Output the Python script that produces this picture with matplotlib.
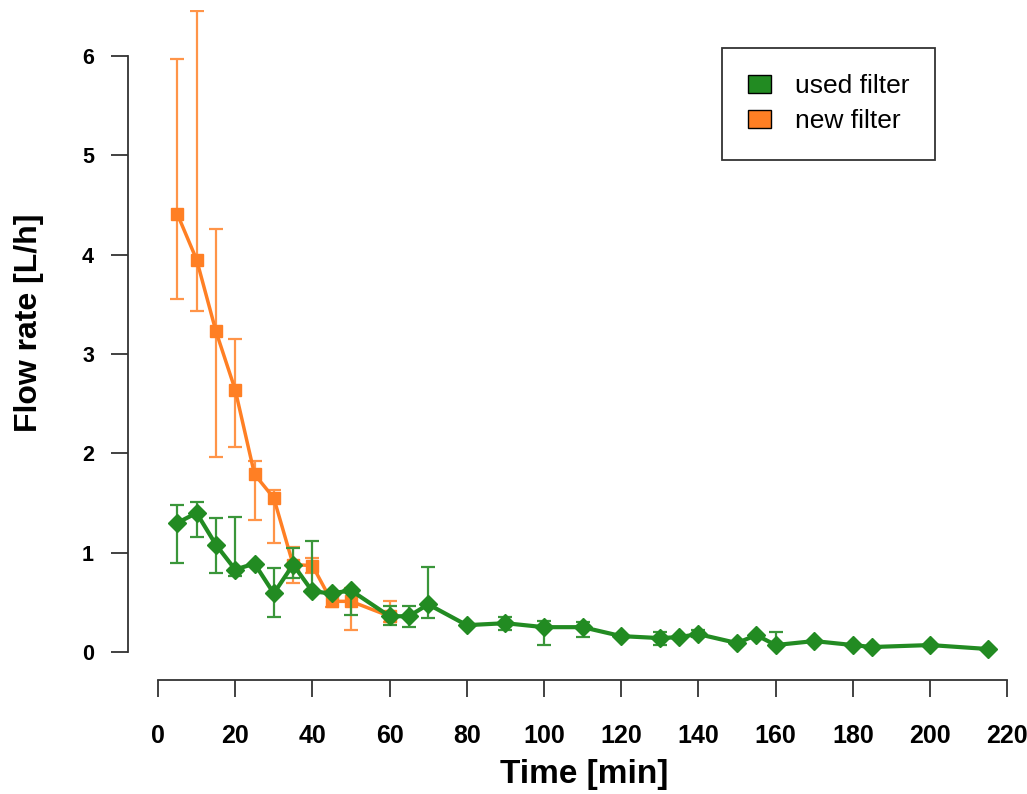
import matplotlib.pyplot as plt
from matplotlib.patches import Patch

# new filter (orange)
time_new = [5, 10, 15, 20, 25, 30, 35, 40, 45, 50, 60]
flow_new = [4.41, 3.95, 3.23, 2.64, 1.79, 1.55, 0.88, 0.87, 0.51, 0.51, 0.36]
upper_new = [5.97, 6.45, 4.26, 3.15, 1.92, 1.63, 1.06, 0.95, 0.60, 0.64, 0.51]
lower_new = [3.55, 3.43, 1.96, 2.06, 1.33, 1.10, 0.69, 0.80, 0.45, 0.22, 0.30]

# used filter (green)
time_used = [5, 10, 15, 20, 25, 30, 35, 40, 45, 50, 60, 65, 70, 80, 90, 100, 110,
             120, 130, 135, 140, 150, 155, 160, 170, 180, 185, 200, 215]
flow_used = [1.30, 1.40, 1.08, 0.83, 0.89, 0.59, 0.88, 0.61, 0.59, 0.62, 0.36, 0.36,
             0.48, 0.27, 0.29, 0.25, 0.25, 0.16, 0.14, 0.15, 0.18, 0.09, 0.17, 0.07,
             0.11, 0.07, 0.05, 0.07, 0.03]
upper_used = [1.48, 1.51, 1.35, 1.36, 0.89, 0.85, 1.05, 1.12, 0.59, 0.62, 0.46, 0.46,
              0.86, 0.27, 0.35, 0.31, 0.30, 0.16, 0.20, 0.15, 0.22, 0.09, 0.17, 0.20,
              0.11, 0.07, 0.05, 0.07, 0.03]
lower_used = [0.90, 1.16, 0.80, 0.77, 0.89, 0.35, 0.75, 0.61, 0.59, 0.37, 0.27, 0.25,
              0.34, 0.27, 0.22, 0.07, 0.15, 0.16, 0.07, 0.15, 0.15, 0.09, 0.17, 0.07,
              0.11, 0.07, 0.05, 0.07, 0.03]

x_ticks = list(range(0, 221, 20))
y_ticks = [0, 1, 2, 3, 4, 5, 6]

green = '#228b22'
orange = '#ff7f24'
W, H = 1027, 794

plt.rcParams['font.family'] = ['Liberation Sans', 'DejaVu Sans']

fig = plt.figure(figsize=(W / 100, H / 100), dpi=100)
ax = fig.add_axes([128 / W, 1 - 680 / H, (1015 - 128) / W, (680 - 10) / H])

err_new = [[f - l for f, l in zip(flow_new, lower_new)],
           [u - f for f, u in zip(flow_new, upper_new)]]
err_used = [[f - l for f, l in zip(flow_used, lower_used)],
            [u - f for f, u in zip(flow_used, upper_used)]]

ax.errorbar(time_new, flow_new, yerr=err_new, fmt='none', ecolor='#ff9448',
            elinewidth=1.6, capsize=5, capthick=1.6, zorder=2)
ax.plot(time_new, flow_new, color=orange, lw=2.5, marker='s', ms=9, zorder=3)
ax.errorbar(time_used, flow_used, yerr=err_used, fmt='none', ecolor='#3a963a',
            elinewidth=1.6, capsize=5, capthick=1.6, zorder=4)
ax.plot(time_used, flow_used, color=green, lw=3, marker='D', ms=9.5, zorder=5)

ax.set_xlim((128 - 158) / 3.86, (1015 - 158) / 3.86)
ax.set_ylim((652 - 680) / 99.33, (652 - 10) / 99.33)

for s in ['top', 'right']:
    ax.spines[s].set_visible(False)
ax.spines['left'].set_bounds(0, 6)
ax.spines['bottom'].set_bounds(0, 220)
for s in ['left', 'bottom']:
    ax.spines[s].set_color('#333333')
    ax.spines[s].set_linewidth(1.3)

ax.set_xticks(x_ticks)
ax.set_yticks(y_ticks)
ax.tick_params(length=12.5, width=1.3, color='#333333')
ax.tick_params(axis='x', pad=19)
ax.tick_params(axis='y', pad=12)
for lab in ax.get_xticklabels():
    lab.set_fontweight('bold')
    lab.set_fontsize(18)
for lab in ax.get_yticklabels():
    lab.set_fontweight('bold')
    lab.set_fontsize(15.5)

fig.text(584 / W, 1 - 775 / H, 'Time [min]', fontsize=24, fontweight='bold',
         ha='center', va='center')
fig.text(29 / W, 1 - 323 / H, 'Flow rate [L/h]', fontsize=23, fontweight='bold',
         ha='center', va='center', rotation=90)

handles = [Patch(facecolor=green, edgecolor='black', label='used filter'),
           Patch(facecolor=orange, edgecolor='black', label='new filter')]
leg = fig.legend(handles=handles, loc='upper left',
                 bbox_to_anchor=(722 / W, 1 - 48 / H), bbox_transform=fig.transFigure,
                 borderaxespad=0, fontsize=19, frameon=True, fancybox=False,
                 edgecolor='black', handlelength=0.85, handleheight=0.7,
                 borderpad=1.0, handletextpad=0.9, labelspacing=0.42)
leg.get_frame().set_linewidth(1.3)

fig.savefig('out.png', dpi=100)
